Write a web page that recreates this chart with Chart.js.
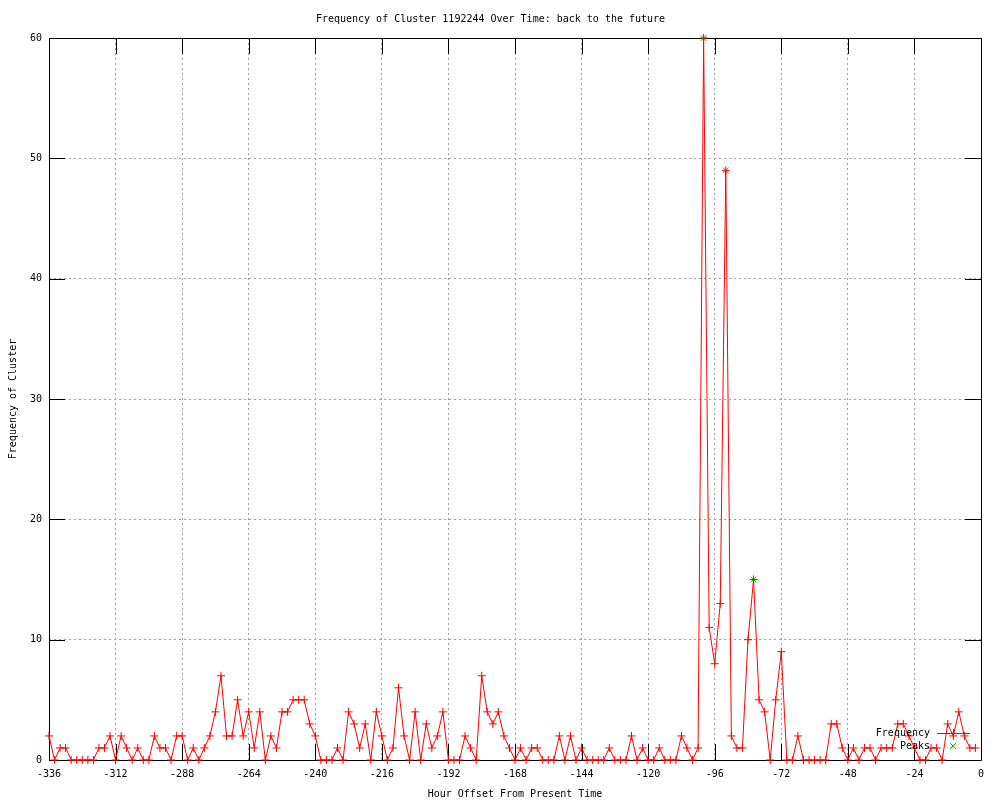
<!DOCTYPE html>
<html>
<head>
<meta charset="utf-8">
<title>Frequency of Cluster 1192244 Over Time</title>
<script src="https://cdn.jsdelivr.net/npm/chart.js@4.4.1/dist/chart.umd.min.js"></script>
<style>
    html, body { margin: 0; padding: 0; background: #fff; }
    #wrap { width: 1000px; height: 800px; }
</style>
</head>
<body>
<div id="wrap"><canvas id="cluster-frequency" width="1000" height="800"></canvas></div>
<script>
// Hour offsets of each sample (every 2 hours)
const hours = [
    -336, -334, -332, -330, -328, -326, -324, -322, -320, -318, -316, -314,
    -312, -310, -308, -306, -304, -302, -300, -298, -296, -294, -292, -290,
    -288, -286, -284, -282, -280, -278, -276, -274, -272, -270, -268, -266,
    -264, -262, -260, -258, -256, -254, -252, -250, -248, -246, -244, -242,
    -240, -238, -236, -234, -232, -230, -228, -226, -224, -222, -220, -218,
    -216, -214, -212, -210, -208, -206, -204, -202, -200, -198, -196, -194,
    -192, -190, -188, -186, -184, -182, -180, -178, -176, -174, -172, -170,
    -168, -166, -164, -162, -160, -158, -156, -154, -152, -150, -148, -146,
    -144, -142, -140, -138, -136, -134, -132, -130, -128, -126, -124, -122,
    -120, -118, -116, -114, -112, -110, -108, -106, -104, -102, -100, -98,
    -96, -94, -92, -90, -88, -86, -84, -82, -80, -78, -76, -74,
    -72, -70, -68, -66, -64, -62, -60, -58, -56, -54, -52, -50,
    -48, -46, -44, -42, -40, -38, -36, -34, -32, -30, -28, -26,
    -24, -22, -20, -18, -16, -14, -12, -10, -8, -6, -4, -2
];

// Cluster frequency per sample
const frequency = [
    2, 0, 1, 1, 0, 0, 0, 0, 0, 1, 1, 2,
    0, 2, 1, 0, 1, 0, 0, 2, 1, 1, 0, 2,
    2, 0, 1, 0, 1, 2, 4, 7, 2, 2, 5, 2,
    4, 1, 4, 0, 2, 1, 4, 4, 5, 5, 5, 3,
    2, 0, 0, 0, 1, 0, 4, 3, 1, 3, 0, 4,
    2, 0, 1, 6, 2, 0, 4, 0, 3, 1, 2, 4,
    0, 0, 0, 2, 1, 0, 7, 4, 3, 4, 2, 1,
    0, 1, 0, 1, 1, 0, 0, 0, 2, 0, 2, 0,
    1, 0, 0, 0, 0, 1, 0, 0, 0, 2, 0, 1,
    0, 0, 1, 0, 0, 0, 2, 1, 0, 1, 60, 11,
    8, 13, 49, 2, 1, 1, 10, 15, 5, 4, 0, 5,
    9, 0, 0, 2, 0, 0, 0, 0, 0, 3, 3, 1,
    0, 1, 0, 1, 1, 0, 1, 1, 1, 3, 3, 2,
    1, 0, 0, 1, 1, 0, 3, 2, 4, 2, 1, 1
];

// Detected peaks
const peakHours = [-100, -92, -82];
const peakValues = [60, 49, 15];

// Axis ticks
const xTickValues = [-336, -312, -288, -264, -240, -216, -192, -168, -144, -120, -96, -72, -48, -24, 0];
const yTickValues = [0, 10, 20, 30, 40, 50, 60];

const FONT = "'DejaVu Sans Mono', 'Liberation Mono', monospace";
const RED = '#ff0000';
const GREEN = '#00c000';
const TIC = 16;

// gnuplot-like frame: black border with inward tics on all four sides
const gnuplotFrame = {
    id: 'gnuplotFrame',
    beforeDatasetsDraw(chart) {
        const { ctx, chartArea: a, scales } = chart;
        ctx.save();
        ctx.strokeStyle = '#000';
        ctx.lineWidth = 1;
        ctx.beginPath();
        ctx.rect(a.left + 0.5, a.top + 0.5, a.right - a.left, a.bottom - a.top);
        xTickValues.forEach(v => {
            const px = Math.round(scales.x.getPixelForValue(v)) + 0.5;
            ctx.moveTo(px, a.bottom);
            ctx.lineTo(px, a.bottom - TIC);
            ctx.moveTo(px, a.top);
            ctx.lineTo(px, a.top + TIC);
        });
        yTickValues.forEach(v => {
            const py = Math.round(scales.y.getPixelForValue(v)) + 0.5;
            ctx.moveTo(a.left, py);
            ctx.lineTo(a.left + TIC, py);
            ctx.moveTo(a.right, py);
            ctx.lineTo(a.right - TIC, py);
        });
        ctx.stroke();
        ctx.restore();
    },
    afterDraw(chart) {
        // key in the lower right corner, inside the plot
        const { ctx } = chart;
        const textRight = 930;
        const sampleX = 953;
        ctx.save();
        ctx.font = '10px ' + FONT;
        ctx.fillStyle = '#000';
        ctx.textAlign = 'right';
        ctx.textBaseline = 'middle';
        ctx.fillText('Frequency', textRight, 733);
        ctx.fillText('Peaks', textRight, 746);

        ctx.strokeStyle = RED;
        ctx.lineWidth = 1;
        ctx.beginPath();
        ctx.moveTo(937, 733.5);
        ctx.lineTo(970, 733.5);
        ctx.moveTo(sampleX - 4, 733.5);
        ctx.lineTo(sampleX + 4, 733.5);
        ctx.moveTo(sampleX + 0.5, 729);
        ctx.lineTo(sampleX + 0.5, 738);
        ctx.stroke();

        ctx.strokeStyle = GREEN;
        ctx.beginPath();
        ctx.moveTo(sampleX - 3, 743);
        ctx.lineTo(sampleX + 3, 749);
        ctx.moveTo(sampleX - 3, 749);
        ctx.lineTo(sampleX + 3, 743);
        ctx.stroke();
        ctx.restore();
    }
};

Chart.defaults.font.family = FONT;
Chart.defaults.font.size = 10;
Chart.defaults.color = '#000';

const freqPoints = hours.map((h, i) => ({ x: h, y: frequency[i] }));
const peakPoints = peakHours.map((h, i) => ({ x: h, y: peakValues[i] }));

new Chart(document.getElementById('cluster-frequency'), {
    type: 'line',
    data: {
        datasets: [{
            label: 'Frequency',
            data: freqPoints,
            borderColor: RED,
            backgroundColor: RED,
            borderWidth: 1,
            tension: 0,
            fill: false,
            pointStyle: 'cross',
            pointRadius: 4,
            pointBorderWidth: 1,
            pointBorderColor: RED,
            pointHoverRadius: 4,
            clip: false
        }, {
            label: 'Peaks',
            data: peakPoints,
            showLine: false,
            borderColor: GREEN,
            backgroundColor: GREEN,
            pointStyle: 'crossRot',
            pointRadius: 4,
            pointBorderWidth: 1,
            pointBorderColor: GREEN,
            clip: false
        }]
    },
    options: {
        responsive: false,
        animation: false,
        devicePixelRatio: 1,
        layout: {
            padding: { left: 0, right: 19, top: 0, bottom: 0 }
        },
        plugins: {
            legend: { display: false },
            tooltip: { enabled: false },
            title: {
                display: true,
                text: 'Frequency of Cluster 1192244 Over Time: back to the future',
                font: { size: 10, weight: 'normal', family: FONT },
                color: '#000',
                padding: { top: 13, bottom: 13 }
            }
        },
        scales: {
            x: {
                type: 'linear',
                min: -336,
                max: 0,
                afterBuildTicks: (scale) => {
                    scale.ticks = xTickValues.map(v => ({ value: v }));
                },
                afterFit: (scale) => { scale.height = 40; },
                grid: {
                    color: '#a0a0a0',
                    drawTicks: false
                },
                border: { display: false, dash: [2, 3] },
                ticks: {
                    padding: 8,
                    maxRotation: 0,
                    autoSkip: false,
                    callback: (v) => String(v)
                },
                title: {
                    display: true,
                    text: 'Hour Offset From Present Time',
                    padding: { top: 0, bottom: 0 }
                }
            },
            y: {
                type: 'linear',
                min: 0,
                max: 60,
                afterBuildTicks: (scale) => {
                    scale.ticks = yTickValues.map(v => ({ value: v }));
                },
                afterFit: (scale) => { scale.width = 49; },
                grid: {
                    color: '#a0a0a0',
                    drawTicks: false
                },
                border: { display: false, dash: [2, 3] },
                ticks: {
                    padding: 7,
                    autoSkip: false,
                    callback: (v) => String(v)
                },
                title: {
                    display: true,
                    text: 'Frequency of Cluster',
                    padding: { top: 7, bottom: 0 }
                }
            }
        }
    },
    plugins: [gnuplotFrame]
});
</script>
</body>
</html>
